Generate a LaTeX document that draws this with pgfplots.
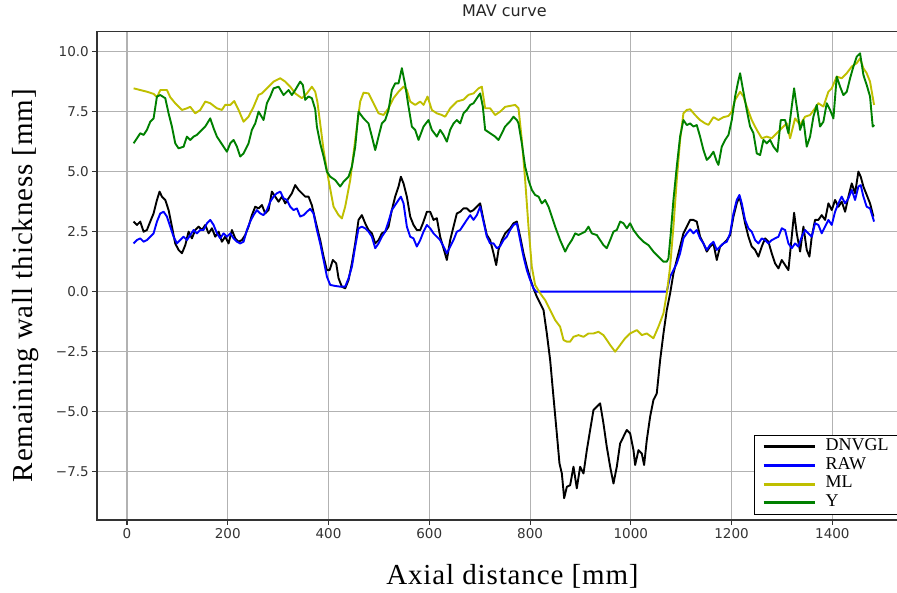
\documentclass[border=0pt]{standalone}
\usepackage{pgfplots}
\pgfplotsset{compat=1.18}
\usepackage{fontspec}
\setmainfont{Liberation Serif}
\newfontfamily\dejavu{DejaVu Sans}
\definecolor{mlyellow}{RGB}{191,191,0}
\definecolor{ygreen}{RGB}{0,128,0}
\begin{document}
\begin{tikzpicture}
\begin{axis}[
  scale only axis,
  width=814.7pt, height=488.3pt,
  xmin=-59.5, xmax=1557.5, ymin=-9.51, ymax=10.83,
  xtick={0,200,400,600,800,1000,1200,1400},
  xticklabels={0,200,400,600,800,1000,1200,1400},
  ytick={-7.5,-5,-2.5,0,2.5,5,7.5,10},
  yticklabels={−7.5,−5.0,−2.5,0.0,2.5,5.0,7.5,10.0},
  tick label style={font=\dejavu\fontsize{13.5}{16}\selectfont, text=black!80},
  tick align=outside, tick pos=left,
  major tick length=4.7pt,
  tick style={black!80, line width=1.1pt},
  axis line style={black!80, line width=1.1pt},
  grid=major,
  grid style={black!30, line width=1.1pt},
  title={MAV curve},
  title style={at={(0.5,1)}, anchor=south, yshift=8.4pt, inner sep=0pt, font=\dejavu\fontsize{16}{19}\selectfont, text=black!85},
  xlabel={Axial distance [mm]},
  ylabel={Remaining wall thickness [mm]},
  xlabel style={at={(axis description cs:0.51,-0.1331)}, anchor=base, inner sep=0pt, font=\fontsize{29}{34}\selectfont\addfontfeature{LetterSpace=3}},
  ylabel style={at={(axis description cs:-0.0786,0.48)}, anchor=base, rotate=0, inner sep=0pt, font=\fontsize{29}{34}\selectfont\addfontfeature{LetterSpace=3}},
  legend cell align=left,
  legend image code/.code={\draw[#1, line width=2.8pt] (0pt,0pt) -- (51pt,0pt); \path (61pt,0pt);},
  legend style={at={(0.8064,0.0102)}, anchor=south west, draw=black, line width=1.1pt,
    inner xsep=7.7pt, inner ysep=2.3pt, font=\fontsize{18}{20}\selectfont,
    row sep=0pt, column sep=0pt,
    nodes={inner sep=0pt, text height=13pt, text depth=5.7pt}},
  every axis plot/.append style={line width=1.9pt, line join=round},
]
\addplot[black] coordinates {
(13.2,2.92) (19.8,2.78) (26.4,2.92) (33,2.5) (39.6,2.57) (46.2,2.92) (52.8,3.26) (59.5,3.82) (64.7,4.17) (69.4,3.96) (76,3.82) (82.6,3.4) (89.2,2.71) (95.8,2.01) (102.4,1.74) (109.1,1.6) (115.7,1.94) (122.3,2.5) (128.9,2.22) (135.5,2.57) (142.1,2.71) (148.7,2.57) (155.4,2.78) (162,2.43) (168.6,2.64) (175.2,2.29) (181.8,2.5) (188.4,2.08) (195,2.29) (201.6,2.01) (208.3,2.57) (214.9,2.22) (221.5,2.08) (228.1,2.15) (234.7,2.36) (241.3,2.71) (247.9,3.19) (254.6,3.54) (261.2,3.47) (267.8,3.61) (274.4,3.26) (281,3.4) (287.6,4.17) (294.2,3.96) (300.9,3.75) (307.5,3.96) (314.1,3.68) (320.7,3.89) (327.3,4.1) (333.9,4.44) (340.5,4.24) (347.1,4.1) (353.8,3.96) (360.4,3.96) (367,3.6) (373.6,3.0) (376.9,2.71) (383.5,2.15) (390.2,1.46) (396.8,0.9) (402.1,0.9) (408.7,1.32) (415.3,1.18) (419.9,0.56) (426.5,0.21) (433.1,0.14) (439.8,0.49) (446.4,1.18) (453,2.01) (459.6,2.99) (466.2,3.19) (472.8,2.85) (479.4,2.57) (486.1,2.43) (492.7,2.01) (499.3,2.15) (505.9,2.43) (512.5,2.5) (519.1,2.71) (525.7,3.4) (532.3,3.96) (539,4.38) (543.6,4.79) (548.9,4.51) (555.5,3.96) (562.1,3.13) (568.7,2.78) (575.3,2.57) (582,2.57) (588.6,2.92) (595.2,3.33) (601.8,3.33) (608.4,2.99) (615,3.06) (621.6,2.29) (628.2,1.81) (634.9,1.32) (641.5,2.15) (648.1,2.71) (654.7,3.26) (661.3,3.33) (667.9,3.47) (674.5,3.47) (681.2,3.33) (687.8,3.4) (694.4,3.54) (701,3.68) (707.6,2.99) (714.2,2.36) (720.8,2.15) (727.5,1.6) (732.8,1.11) (737.4,1.74) (744,2.15) (750.6,2.43) (760.5,2.64) (767.2,2.85) (773.8,2.92) (780.4,2.29) (787,1.6) (793.6,1.04) (800.2,0.56) (806.8,0.14) (813.5,-0.21) (820.1,-0.49) (826.7,-0.76) (833.3,-1.74) (839.9,-2.85) (846.5,-4.38) (853.1,-5.9) (858.4,-7.15) (863.1,-7.57) (867.7,-8.6) (873,-8.13) (879.6,-8.06) (886.2,-7.29) (892.8,-8.19) (899.4,-7.29) (906.1,-7.57) (912.7,-6.6) (919.3,-5.76) (925.9,-4.93) (932.5,-4.79) (939.1,-4.65) (945.7,-5.49) (952.3,-6.46) (959,-7.29) (965.6,-7.99) (972.2,-7.29) (978.8,-6.32) (985.4,-6.04) (992,-5.76) (998.6,-5.9) (1005.3,-6.6) (1008.6,-7.22) (1015.2,-6.6) (1021.8,-6.74) (1026.4,-7.22) (1031.7,-6.18) (1038.3,-5.21) (1044.9,-4.51) (1051.5,-4.24) (1058.2,-2.85) (1064.8,-1.74) (1071.4,-0.76) (1078,-0.07) (1084.6,0.76) (1091.2,1.32) (1097.8,1.88) (1104.4,2.43) (1111.1,2.71) (1117.7,2.99) (1124.3,2.99) (1130.9,2.92) (1137.5,2.29) (1144.2,2.01) (1150.8,1.67) (1157.4,1.88) (1164,2.01) (1170.6,1.32) (1177.2,1.88) (1183.8,2.01) (1190.5,2.15) (1197.1,2.36) (1203.7,3.13) (1210.3,3.68) (1215.6,3.96) (1220.2,3.54) (1226.8,2.85) (1233.4,2.29) (1240,1.88) (1246.7,1.74) (1253.3,1.46) (1259.9,1.88) (1266.5,2.22) (1273.1,2.08) (1279.7,1.6) (1286.3,1.18) (1293,0.97) (1299.6,1.32) (1306.2,1.11) (1312.8,0.9) (1319.4,2.29) (1324.1,3.29) (1329.3,2.43) (1336,1.67) (1342.6,2.71) (1349.2,1.74) (1354.5,1.46) (1359.1,2.29) (1365.7,2.99) (1372.3,2.99) (1378.9,3.19) (1385.6,2.99) (1392.2,3.68) (1398.8,3.4) (1405.4,3.82) (1412,3.54) (1418.6,3.75) (1425.3,3.33) (1431.9,3.96) (1438.5,4.51) (1445.1,4.1) (1451.7,5.0) (1456.3,4.79) (1461.6,4.38) (1468.2,4.03) (1474.8,3.68) (1481.5,3.13)
};
\addlegendentry{DNVGL\hspace*{70pt}}
\addplot[blue] coordinates {
(13.2,2.01) (19.8,2.15) (26.4,2.22) (33,2.08) (39.6,2.15) (46.2,2.29) (52.8,2.43) (59.5,2.92) (66.1,3.26) (72.7,3.33) (79.3,3.13) (85.9,2.71) (92.5,2.29) (99.1,2.01) (105.7,2.15) (112.4,2.29) (119,2.15) (125.6,2.36) (132.2,2.57) (138.8,2.43) (145.4,2.57) (152,2.57) (158.7,2.85) (165.3,2.99) (171.9,2.78) (178.5,2.43) (185.1,2.22) (191.7,2.43) (198.3,2.29) (205,2.43) (211.6,2.22) (218.2,2.08) (224.8,2.01) (231.4,2.08) (238,2.57) (244.6,2.92) (251.2,3.19) (257.9,3.4) (264.5,3.26) (271.1,3.19) (277.7,3.4) (284.3,3.75) (290.9,3.96) (297.5,4.1) (304.2,4.17) (310.8,3.89) (317.4,3.82) (324,3.54) (330.6,3.4) (337.2,3.47) (343.8,3.13) (350.5,3.19) (357.1,3.33) (363.7,3.45) (370.3,3.26) (376.9,2.57) (383.5,2.01) (390.2,1.32) (396.8,0.63) (403.4,0.28) (413.3,0.24) (423.2,0.21) (433.1,0.21) (439.8,0.56) (446.4,1.04) (453,1.88) (459.6,2.64) (466.2,2.71) (472.8,2.64) (479.4,2.5) (486.1,2.29) (492.7,1.81) (499.3,2.01) (505.9,2.29) (512.5,2.5) (519.1,2.92) (525.7,3.4) (532.3,3.61) (539,3.82) (543.6,3.96) (548.9,3.68) (555.5,2.71) (562.1,2.29) (568.7,2.22) (575.3,1.88) (582,2.15) (588.6,2.5) (595.2,2.78) (601.8,2.64) (608.4,2.43) (615,2.29) (621.6,2.15) (628.2,1.88) (634.9,1.6) (641.5,1.88) (648.1,2.15) (654.7,2.5) (661.3,2.57) (667.9,2.78) (674.5,2.99) (681.2,3.19) (687.8,2.99) (694.4,3.19) (701,3.54) (707.6,2.92) (714.2,2.29) (720.8,2.01) (727.5,2.01) (734.1,1.81) (740.7,1.9) (747.3,2.15) (753.9,2.29) (760.5,2.57) (767.2,2.78) (773.8,2.85) (780.4,2.15) (787,1.46) (793.6,0.9) (800.2,0.49) (806.8,0.14) (812,0) (1071.4,0) (1078,0.63) (1084.6,0.9) (1091.2,1.18) (1097.8,1.6) (1104.4,2.22) (1111.1,2.43) (1117.7,2.6) (1124.3,2.43) (1130.9,2.57) (1137.5,2.22) (1144.2,2.01) (1150.8,1.74) (1157.4,1.95) (1164,2.08) (1170.6,1.74) (1177.2,1.88) (1183.8,2.01) (1190.5,2.08) (1197.1,2.43) (1203.7,3.26) (1210.3,3.82) (1215.6,4.03) (1220.2,3.68) (1226.8,2.99) (1233.4,2.64) (1240,2.5) (1246.7,2.15) (1253.3,2.01) (1259.9,2.22) (1266.5,2.15) (1273.1,2.01) (1279.7,2.15) (1286.3,2.22) (1293,2.29) (1299.6,2.64) (1306.2,2.57) (1312.8,2.01) (1319.4,1.81) (1326,2.01) (1332.6,1.88) (1339.3,2.29) (1345.9,2.57) (1352.5,2.43) (1359.1,2.29) (1365.7,2.85) (1372.3,2.78) (1378.9,2.43) (1385.6,2.71) (1392.2,2.99) (1398.8,2.78) (1405.4,3.33) (1412,3.68) (1418.6,3.96) (1425.3,3.68) (1431.9,3.89) (1438.5,4.24) (1445.1,3.82) (1451.7,4.38) (1456.3,4.44) (1461.6,3.96) (1468.2,3.54) (1474.8,3.47) (1482.8,2.92)
};
\addlegendentry{RAW}
\addplot[mlyellow] coordinates {
(13.2,8.47) (26.4,8.4) (39.6,8.33) (52.8,8.24) (59.5,8.1) (66.1,8.4) (79.3,8.4) (85.9,8.1) (95.8,7.85) (109.1,7.57) (119,7.64) (125.6,7.7) (135.5,7.43) (145.4,7.57) (155.4,7.92) (165.3,7.85) (178.5,7.64) (188.4,7.57) (195,7.78) (205,7.78) (212.9,7.94) (221.5,7.57) (231.4,7.08) (241.3,7.29) (251.2,7.7) (261.2,8.2) (267.8,8.26) (277.7,8.47) (290.9,8.75) (304.2,8.89) (314.1,8.75) (324,8.54) (333.9,8.26) (347.1,8.06) (357.1,8.26) (367,8.54) (373.6,8.33) (378,7.9) (383.5,7.0) (390.2,5.9) (400.1,4.65) (410,3.54) (419.9,3.19) (426.5,3.05) (433.1,3.54) (443.1,4.65) (453,6.32) (462.9,7.92) (469.5,8.29) (479.4,8.26) (489.4,7.85) (499.3,7.43) (509.2,7.36) (519.1,7.64) (529,8.06) (539,8.33) (548.9,8.54) (555.5,8.4) (562.1,7.92) (572,7.78) (582,7.92) (588.6,7.78) (596.5,8.13) (605.1,7.57) (615,7.43) (625,7.36) (631.6,7.29) (641.5,7.64) (654.7,7.92) (667.9,8.0) (677.9,8.2) (687.8,8.26) (697.7,8.47) (704.3,8.54) (710.9,7.64) (720.8,7.64) (730.8,7.36) (740.7,7.5) (750.6,7.7) (760.5,7.74) (770.5,7.78) (777.1,7.64) (783.7,6.32) (790.3,4.65) (796.9,2.71) (803.5,1.04) (810.1,0.28) (820.1,-0.07) (830,-0.35) (839.9,-0.76) (849.8,-1.18) (859.7,-1.46) (866.4,-2.01) (873,-2.08) (879.6,-2.08) (886.2,-1.88) (896.1,-1.81) (906.1,-1.88) (916,-1.74) (925.9,-1.74) (935.8,-1.67) (945.7,-1.81) (952.3,-2.01) (959,-2.22) (968.9,-2.5) (978.8,-2.22) (988.7,-1.94) (998.6,-1.74) (1011.9,-1.6) (1021.8,-1.81) (1031.7,-1.74) (1044.9,-1.94) (1054.8,-1.46) (1064.8,-0.9) (1071.4,-0.07) (1078,1.04) (1084.6,2.71) (1091.2,4.65) (1097.8,6.32) (1104.4,7.43) (1111.1,7.57) (1117.7,7.6) (1127.6,7.36) (1137.5,7.15) (1147.5,7.01) (1154.1,6.95) (1164,7.27) (1173.9,7.15) (1183.8,7.27) (1193.8,7.32) (1200.4,7.5) (1207,7.99) (1216.9,8.33) (1223.5,8.13) (1230.1,7.71) (1240,7.15) (1250,6.74) (1259.9,6.39) (1269.8,6.46) (1279.7,6.39) (1289.7,6.6) (1299.6,6.81) (1309.5,7.01) (1316.1,6.39) (1326,7.22) (1336,6.95) (1345.9,7.29) (1355.8,7.36) (1365.7,7.64) (1372.3,7.85) (1382.2,7.71) (1392.2,8.33) (1398.8,8.47) (1408.7,8.96) (1418.6,8.89) (1428.6,9.1) (1438.5,9.38) (1448.4,9.52) (1455,9.72) (1461.6,9.31) (1468.2,9.1) (1474.8,8.75) (1482.8,7.78)
};
\addlegendentry{ML}
\addplot[ygreen] coordinates {
(13.2,6.18) (19.8,6.39) (26.4,6.6) (33,6.53) (39.6,6.74) (46.2,7.08) (52.8,7.22) (59.5,8.13) (66.1,8.19) (76,8.06) (82.6,7.43) (89.2,6.88) (95.8,6.18) (102.4,5.97) (112.4,6.04) (119,6.46) (125.6,6.32) (132.2,6.46) (138.8,6.53) (148.7,6.74) (155.4,6.88) (165.3,7.22) (171.9,6.81) (178.5,6.46) (185.1,6.25) (191.7,6.04) (198.3,5.83) (205,6.18) (211.6,6.32) (218.2,6.04) (224.8,5.63) (231.4,5.76) (241.3,6.18) (247.9,6.74) (254.6,7.01) (261.2,7.5) (271.1,7.15) (277.7,7.85) (284.3,8.13) (290.9,8.47) (300.9,8.54) (310.8,8.19) (320.7,8.4) (327.3,8.19) (333.9,8.4) (343.8,8.75) (349.1,8.61) (353.8,7.99) (360.4,8.13) (367,8.06) (373.6,7.6) (376.9,6.88) (383.5,6.18) (390.2,5.63) (396.8,5.0) (403.4,4.79) (413.3,4.65) (423.2,4.38) (429.8,4.58) (439.8,4.79) (446.4,5.21) (453,6.04) (459.6,7.5) (469.5,7.22) (479.4,7.01) (486.1,6.46) (492.7,5.9) (499.3,6.46) (505.9,7.01) (512.5,7.15) (519.1,7.57) (525.7,8.4) (532.3,8.68) (539,8.68) (545.6,9.31) (552.2,8.61) (558.8,7.71) (565.4,6.88) (572,6.74) (578.6,6.32) (588.6,6.88) (598.5,7.15) (605.1,6.74) (615,6.46) (621.6,6.74) (628.2,6.53) (634.9,6.25) (641.5,6.74) (648.1,7.01) (654.7,7.15) (661.3,7.01) (667.9,7.43) (674.5,7.57) (681.2,7.78) (687.8,7.85) (694.4,8.06) (701,8.26) (706.3,7.71) (710.9,6.74) (720.8,6.6) (730.8,6.46) (737.4,6.32) (744,6.6) (750.6,6.88) (760.5,7.1) (767.2,7.29) (773.8,7.15) (777.1,7.01) (783.7,6.18) (790.3,5.21) (796.9,4.65) (803.5,4.24) (810.1,4.03) (816.8,3.96) (823.4,3.68) (830,3.82) (836.6,3.54) (843.2,3.13) (849.8,2.71) (859.7,2.15) (869.7,1.67) (876.3,1.94) (882.9,2.15) (889.5,2.43) (896.1,2.36) (902.7,2.43) (909.3,2.5) (916,2.71) (922.6,2.43) (932.5,2.36) (939.1,2.15) (945.7,1.94) (952.3,1.81) (959,2.15) (965.6,2.5) (972.2,2.57) (978.8,2.92) (985.4,2.85) (992,2.64) (998.6,2.85) (1005.3,2.57) (1015.2,2.29) (1025.1,2.08) (1035,1.94) (1044.9,1.67) (1054.8,1.46) (1064.8,1.25) (1071.4,1.25) (1074.7,1.39) (1079.3,2.43) (1084.6,3.82) (1091.2,5.21) (1097.8,6.46) (1104.4,7.15) (1111.1,6.94) (1117.7,7.01) (1124.3,6.88) (1130.9,6.94) (1137.5,6.46) (1144.2,5.9) (1150.8,5.49) (1157.4,5.63) (1164,5.83) (1170.6,5.42) (1173.9,5.28) (1180.5,6.04) (1187.1,6.32) (1193.8,6.53) (1200.4,7.15) (1207,8.13) (1212.3,8.68) (1216.9,9.1) (1222.2,8.47) (1230.1,7.57) (1236.7,6.88) (1243.4,6.6) (1250,5.76) (1256.6,5.69) (1263.2,6.32) (1269.8,6.18) (1276.4,6.32) (1283.1,6.04) (1291,5.83) (1297.6,7.15) (1306.2,7.15) (1312.8,6.6) (1319.4,7.71) (1324.1,8.47) (1329.3,7.71) (1336,6.74) (1342.6,7.15) (1349.2,6.04) (1355.8,6.46) (1362.4,7.29) (1369,7.78) (1375.6,6.88) (1382.2,7.08) (1388.9,7.85) (1395.5,7.57) (1402.1,7.22) (1408.7,8.96) (1415.3,8.54) (1421.9,8.19) (1428.6,8.33) (1435.2,8.89) (1441.8,9.38) (1448.4,9.79) (1455,9.93) (1461.6,9.03) (1468.2,8.61) (1474.8,8.13) (1480.1,6.88) (1483.4,6.94)
};
\addlegendentry{Y}
\end{axis}
\pgfresetboundingbox
\path (current axis.south west) ++(-97pt,-72pt) rectangle ++(897pt,592pt);
\end{tikzpicture}
\end{document}
